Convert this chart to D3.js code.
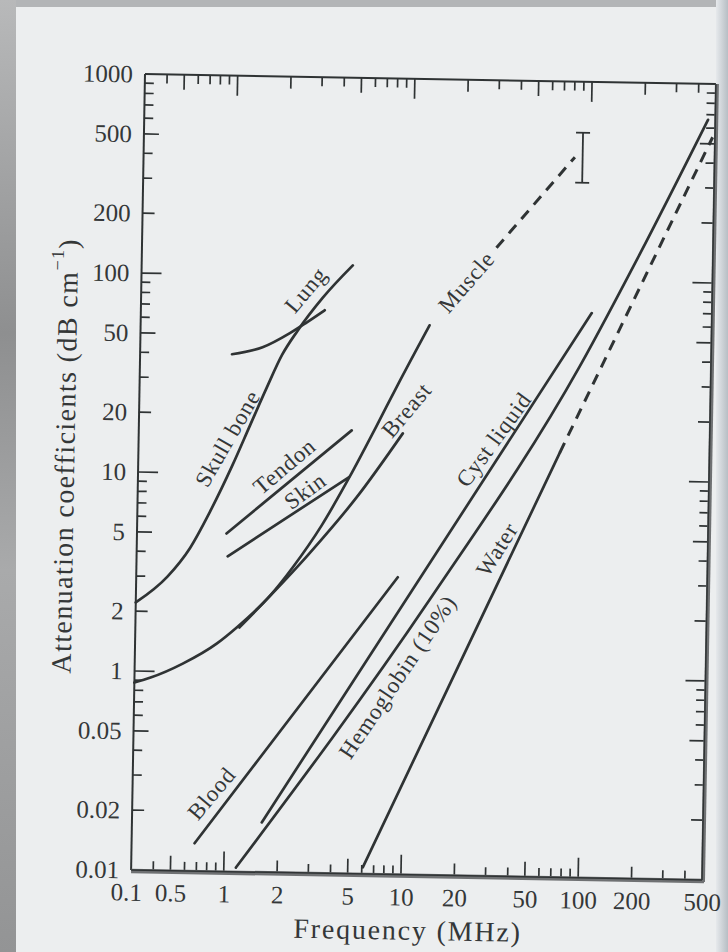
<!DOCTYPE html>
<html>
<head>
<meta charset="utf-8">
<script src="https://cdn.jsdelivr.net/npm/d3@7"></script>
<style>
  html, body { margin: 0; padding: 0; background: #909193; }
  svg { display: block; }
</style>
</head>
<body>
<script>
// tick values and the labels printed on the page (the page has a few misprints, kept as is)
const xTickValues = [0.3, 0.5, 1, 2, 5, 10, 20, 50, 100, 200, 500];
const xTickLabels = ["0.1", "0.5", "1", "2", "5", "10", "20", "50", "100", "200", "500"];
const yTickValues = [1000, 500, 200, 100, 50, 20, 10, 5, 2, 1, 0.5, 0.2, 0.1];
const yTickLabels = ["1000", "500", "200", "100", "50", "20", "10", "5", "2", "1", "0.05", "0.02", "0.01"];

// [frequency MHz, attenuation dB/cm]
const skullBone = [[0.3, 2.21], [0.45, 3.0], [0.6, 4.2], [0.77, 6.4], [1.02, 11.0], [1.27, 17.5],
  [1.56, 27], [1.9, 40], [2.31, 53], [3.18, 78], [4.66, 114]];
const lung = [[0.99, 39.8], [1.47, 43.4], [2.09, 51.4], [2.6, 58.5], [3.27, 67.5]];
const tendon = [[0.96, 5.0], [4.77, 16.9]];
const skin = [[0.98, 3.84], [4.64, 9.82]];
const muscle = [[0.3, 0.875], [0.37, 0.93], [0.56, 1.1], [0.87, 1.4], [1.12, 1.69], [1.71, 2.45],
  [2.29, 3.43], [3.3, 5.6], [4.67, 9.8], [6.5, 17.5], [8.6, 29], [12.8, 57.9]];
const muscleDashed = [[30, 144], [81.4, 417]];
const breast = [[1.16, 1.69], [2.84, 4.05], [5.17, 7.81], [9.27, 16.5]];
const blood = [[0.68, 0.138], [8.97, 3.12]];
const cystLiquid = [[1.62, 0.178], [105, 68.9]];
const hemoglobin = [[1.17, 0.105], [13.6, 2.41], [90.9, 37.1], [188, 131], [455, 660]];
const water = [[6.08, 0.108], [71.5, 13.6]];
const waterDashed = [[71.5, 13.6], [485, 540]];
// the "I" bar next to the dashed muscle line
const spreadFreq = 90;
const spreadRange = [311, 554];

const curveLabels = [
  { text: "Skull bone", at: [0.955, 15.0], angle: -61 },
  { text: "Lung", at: [2.55, 85], angle: -51 },
  { text: "Tendon", at: [2.01, 11.0], angle: -41 },
  { text: "Skin", at: [2.64, 8.3], angle: -37 },
  { text: "Breast", at: [9.71, 21.6], angle: -51 },
  { text: "Muscle", at: [20.5, 96], angle: -50 },
  { text: "Cyst liquid", at: [30.3, 15.6], angle: -55 },
  { text: "Water", at: [32.4, 4.38], angle: -59 },
  { text: "Hemoglobin (10%)", at: [9.18, 0.983], angle: -57 },
  { text: "Blood", at: [0.84, 0.246], angle: -51 },
];

const width = 728;
const height = 952;
const margin = { top: 79, left: 138 };
const plotW = 571;
const plotH = 796;
const tilt = 1.0; // the photographed page sits slightly askew
const ink = "#2f3334";
const serif = "'Liberation Serif', 'Times New Roman', serif";

const x = d3.scaleLog().domain([0.3, 500]).range([margin.left, margin.left + plotW]);
const y = d3.scaleLog().domain([0.1, 1000]).range([margin.top + plotH, margin.top]);
const x0 = margin.left, x1 = margin.left + plotW;
const y0 = margin.top + plotH, y1 = margin.top;

const svg = d3.select("body").append("svg")
  .attr("width", width)
  .attr("height", height);

// paper + the dark edges of the photo
const defs = svg.append("defs");
const gl = defs.append("linearGradient").attr("id", "leftEdge").attr("x1", 0).attr("y1", 0).attr("x2", 0).attr("y2", 1);
gl.append("stop").attr("offset", "0%").attr("stop-color", "#b8b9ba");
gl.append("stop").attr("offset", "35%").attr("stop-color", "#8e8f90");
gl.append("stop").attr("offset", "60%").attr("stop-color", "#a9aaab");
gl.append("stop").attr("offset", "100%").attr("stop-color", "#939495");
const gr = defs.append("linearGradient").attr("id", "rightEdge").attr("x1", 0).attr("y1", 0).attr("x2", 1).attr("y2", 0);
gr.append("stop").attr("offset", "0%").attr("stop-color", "#e6e9ec");
gr.append("stop").attr("offset", "100%").attr("stop-color", "#b7bec4");

svg.append("rect").attr("width", width).attr("height", height).attr("fill", "#eceeef");
svg.append("rect").attr("x", 0).attr("y", 0).attr("width", 16).attr("height", height).attr("fill", "url(#leftEdge)");
svg.append("rect").attr("x", 16).attr("y", 0).attr("width", width - 16).attr("height", 7).attr("fill", "#b3b5b7");
svg.append("rect").attr("x", 716).attr("y", 0).attr("width", 12).attr("height", height).attr("fill", "url(#rightEdge)");

const chart = svg.append("g")
  .attr("transform", `rotate(${tilt},${(x0 + x1) / 2},${(y0 + y1) / 2})`);

// tick length by leading digit
function tickLen(v) {
  const m = Math.round(v / Math.pow(10, Math.floor(Math.log10(v) + 1e-9)));
  if (m === 1 || m === 10) return 20;
  if (m === 5) return 15;
  if (m === 2) return 12;
  return 9;
}

const xMinor = x.ticks().filter(v => v > 0.3 * 1.01 && v < 500 * 0.99);
const yMinor = y.ticks().filter(v => v > 0.1 * 1.01 && v < 1000 * 0.99);

const ticks = chart.append("g")
  .attr("stroke", ink)
  .attr("stroke-width", 1.7);
ticks.selectAll(".xb").data(xMinor).join("line")
  .attr("x1", d => x(d)).attr("x2", d => x(d))
  .attr("y1", y0).attr("y2", d => y0 - tickLen(d));
ticks.selectAll(".xt").data(xMinor).join("line")
  .attr("x1", d => x(d)).attr("x2", d => x(d))
  .attr("y1", y1).attr("y2", d => y1 + tickLen(d));
ticks.selectAll(".yl").data(yMinor).join("line")
  .attr("y1", d => y(d)).attr("y2", d => y(d))
  .attr("x1", x0).attr("x2", d => x0 + tickLen(d));
ticks.selectAll(".yr").data(yMinor).join("line")
  .attr("y1", d => y(d)).attr("y2", d => y(d))
  .attr("x1", x1).attr("x2", d => x1 - tickLen(d));

// frame: left/top thin, bottom/right heavier grey as printed
chart.append("line").attr("x1", x0).attr("y1", y1).attr("x2", x0).attr("y2", y0)
  .attr("stroke", ink).attr("stroke-width", 2);
chart.append("line").attr("x1", x0).attr("y1", y1).attr("x2", x1).attr("y2", y1)
  .attr("stroke", ink).attr("stroke-width", 2);
chart.append("line").attr("x1", x0).attr("y1", y0 + 1).attr("x2", x1 + 2).attr("y2", y0 + 1)
  .attr("stroke", "#6f7173").attr("stroke-width", 4.5);
chart.append("line").attr("x1", x1 + 1).attr("y1", y1).attr("x2", x1 + 1).attr("y2", y0 + 2)
  .attr("stroke", "#6f7173").attr("stroke-width", 4);
chart.append("line").attr("x1", x0).attr("y1", y0).attr("x2", x1).attr("y2", y0)
  .attr("stroke", ink).attr("stroke-width", 1.5);
chart.append("line").attr("x1", x1).attr("y1", y1).attr("x2", x1).attr("y2", y0)
  .attr("stroke", ink).attr("stroke-width", 1.5);

// tick labels
const gx = chart.append("g")
  .attr("transform", `translate(0,${y0})`)
  .call(d3.axisBottom(x).tickValues(xTickValues).tickFormat((d, i) => xTickLabels[i]).tickSize(0).tickPadding(13));
const gy = chart.append("g")
  .attr("transform", `translate(${x0},0)`)
  .call(d3.axisLeft(y).tickValues(yTickValues).tickFormat((d, i) => yTickLabels[i]).tickSize(0).tickPadding(12));
[gx, gy].forEach(g => {
  g.select(".domain").remove();
  g.attr("font-family", serif).attr("font-size", 25);
  g.selectAll("text").attr("fill", "#343738");
});
gx.selectAll(".tick").filter(d => d === 0.3).select("text").attr("dx", -5);

// axis titles
chart.append("text")
  .attr("x", (x0 + x1) / 2 - 8)
  .attr("y", y0 + 65)
  .attr("text-anchor", "middle")
  .attr("font-family", serif).attr("font-size", 28).attr("letter-spacing", 1.8)
  .attr("fill", "#343738")
  .text("Frequency (MHz)");

const yTitle = chart.append("text")
  .attr("transform", `translate(${x0 - 74},${(y0 + y1) / 2 - 15}) rotate(-90)`)
  .attr("text-anchor", "middle")
  .attr("dominant-baseline", "central")
  .attr("font-family", serif).attr("font-size", 28).attr("letter-spacing", 1.4)
  .attr("fill", "#343738");
yTitle.append("tspan").text("Attenuation coefficients (dB cm");
yTitle.append("tspan").attr("dy", -10).attr("font-size", 18).text("−1");
yTitle.append("tspan").attr("dy", 10).text(")");

// curves
const line = d3.line()
  .x(d => x(d[0]))
  .y(d => y(d[1]))
  .curve(d3.curveMonotoneX);

const solid = [skullBone, lung, tendon, skin, muscle, breast, blood, cystLiquid, hemoglobin, water];
const dashed = [muscleDashed, waterDashed];

const curves = chart.append("g")
  .attr("fill", "none")
  .attr("stroke", ink)
  .attr("stroke-linecap", "round");
curves.selectAll(".solid").data(solid).join("path")
  .attr("class", "solid")
  .attr("stroke-width", 2.7)
  .attr("d", line);
curves.selectAll(".dashed").data(dashed).join("path")
  .attr("class", "dashed")
  .attr("stroke-width", 3)
  .attr("stroke-linecap", "butt")
  .attr("stroke-dasharray", "11,8")
  .attr("d", line);

// error bar
const eb = chart.append("g").attr("stroke", ink).attr("stroke-width", 1.8);
eb.append("line")
  .attr("x1", x(spreadFreq)).attr("x2", x(spreadFreq))
  .attr("y1", y(spreadRange[0])).attr("y2", y(spreadRange[1]));
spreadRange.forEach(v => {
  eb.append("line")
    .attr("x1", x(spreadFreq) - 7).attr("x2", x(spreadFreq) + 7)
    .attr("y1", y(v)).attr("y2", y(v));
});

// curve names
chart.append("g")
  .attr("font-family", serif).attr("font-size", 23).attr("letter-spacing", 0.8)
  .attr("fill", "#343738")
  .selectAll("text").data(curveLabels).join("text")
  .attr("text-anchor", "middle")
  .attr("dominant-baseline", "central")
  .attr("transform", d => `translate(${x(d.at[0])},${y(d.at[1])}) rotate(${d.angle})`)
  .text(d => d.text);
</script>
</body>
</html>
